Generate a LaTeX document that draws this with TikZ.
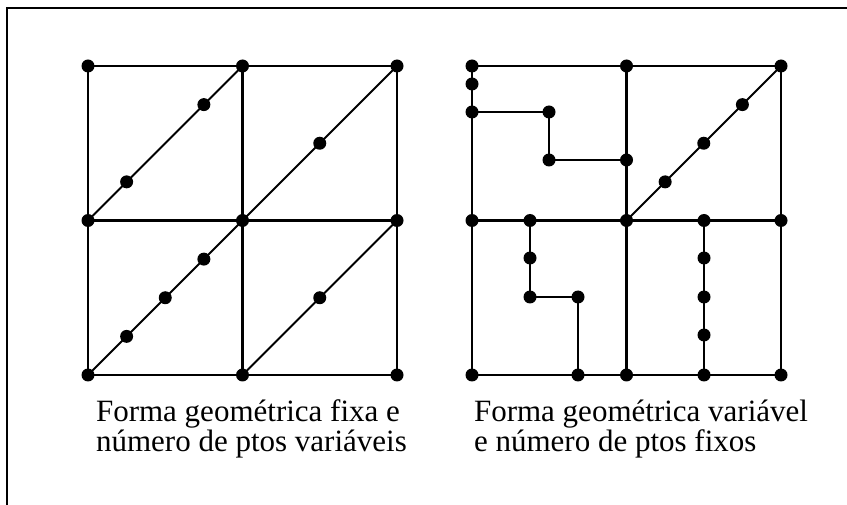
\documentclass[tikz,border=0pt]{standalone}
\usepackage{fontspec}
\setmainfont{Liberation Serif}
\usetikzlibrary{calc}

\begin{document}
\begin{tikzpicture}[x=1pt,y=-1pt,line width=2.1pt,
  caption/.style={align=left,inner sep=0pt,font=\fontsize{31}{28}\selectfont}]

% Dot radius
\def\r{6.5pt}

% Page
\useasboundingbox (0,0) rectangle (847,505);

% Frame, top and left sides only
\coordinate (F1) at (7,505);
\coordinate (F2) at (7,8);
\coordinate (F3) at (847,8);
\draw[line width=2.2pt] (F1) -- (F2) -- (F3);

% Left grid corners
\coordinate (L00) at (88,66);
\coordinate (L10) at (242.5,66);
\coordinate (L20) at (397,66);
\coordinate (L01) at (88,220.5);
\coordinate (L11) at (242.5,220.5);
\coordinate (L21) at (397,220.5);
\coordinate (L02) at (88,375);
\coordinate (L12) at (242.5,375);
\coordinate (L22) at (397,375);

% Left grid lines
\draw (L00) -- (L20) -- (L22) -- (L02) -- cycle;
\draw (L01) -- (L21);
\draw (L10) -- (L12);

% Left grid diagonals
\draw (L01) -- (L10);
\draw (L11) -- (L20);
\draw (L02) -- (L11);
\draw (L12) -- (L21);

% Points on the diagonals
\coordinate (P1) at ($(L01)!0.25!(L10)$);
\coordinate (P2) at ($(L01)!0.75!(L10)$);
\coordinate (P3) at ($(L11)!0.5!(L20)$);
\coordinate (P4) at ($(L02)!0.25!(L11)$);
\coordinate (P5) at ($(L02)!0.5!(L11)$);
\coordinate (P6) at ($(L02)!0.75!(L11)$);
\coordinate (P7) at ($(L12)!0.5!(L21)$);

% Left grid dots
\fill (L00) circle (\r) (L10) circle (\r) (L20) circle (\r)
      (L01) circle (\r) (L11) circle (\r) (L21) circle (\r)
      (L02) circle (\r) (L12) circle (\r) (L22) circle (\r);
\fill (P1) circle (\r) (P2) circle (\r) (P3) circle (\r) (P4) circle (\r)
      (P5) circle (\r) (P6) circle (\r) (P7) circle (\r);

% Right grid corners
\coordinate (R00) at (472,66);
\coordinate (R10) at (626.5,66);
\coordinate (R20) at (781,66);
\coordinate (R01) at (472,220.5);
\coordinate (R11) at (626.5,220.5);
\coordinate (R21) at (781,220.5);
\coordinate (R02) at (472,375);
\coordinate (R12) at (626.5,375);
\coordinate (R22) at (781,375);

% Right grid inner points
\coordinate (Q1) at (472,84);
\coordinate (Q2) at (472,112);
\coordinate (Q3) at (549,112);
\coordinate (Q4) at (549,160);
\coordinate (Q5) at (626.5,160);
\coordinate (Q6) at (530,220.5);
\coordinate (Q7) at (530,258);
\coordinate (Q8) at (530,297);
\coordinate (Q9) at (578,297);
\coordinate (Q10) at (578,375);
\coordinate (Q11) at (704,220.5);
\coordinate (Q12) at (704,258);
\coordinate (Q13) at (704,297);
\coordinate (Q14) at (704,335);
\coordinate (Q15) at (704,375);
\coordinate (S1) at ($(R11)!0.25!(R20)$);
\coordinate (S2) at ($(R11)!0.5!(R20)$);
\coordinate (S3) at ($(R11)!0.75!(R20)$);

% Right grid lines
\draw (R00) -- (R20) -- (R22) -- (R02) -- cycle;
\draw (R01) -- (R21);
\draw (R10) -- (R12);
\draw (R11) -- (R20);
\draw (Q2) -- (Q3) -- (Q4) -- (Q5);
\draw (Q6) -- (Q8) -- (Q9) -- (Q10);
\draw (Q11) -- (Q15);

% Right grid dots
\fill (R00) circle (\r) (R10) circle (\r) (R20) circle (\r)
      (R01) circle (\r) (R11) circle (\r) (R21) circle (\r)
      (R02) circle (\r) (R12) circle (\r) (R22) circle (\r);
\fill (Q1) circle (\r) (Q2) circle (\r) (Q3) circle (\r) (Q4) circle (\r)
      (Q5) circle (\r) (Q6) circle (\r) (Q7) circle (\r) (Q8) circle (\r)
      (Q9) circle (\r) (Q10) circle (\r) (Q11) circle (\r) (Q12) circle (\r)
      (Q13) circle (\r) (Q14) circle (\r) (Q15) circle (\r);
\fill (S1) circle (\r) (S2) circle (\r) (S3) circle (\r);

% Captions
\node[caption,anchor=base west] (capL) at (95,451)
  {Forma geométrica fixa e\\número de ptos variáveis};
\node[caption,anchor=base west] (capR) at (473,451)
  {Forma geométrica variável\\e número de ptos fixos};

\end{tikzpicture}
\end{document}
